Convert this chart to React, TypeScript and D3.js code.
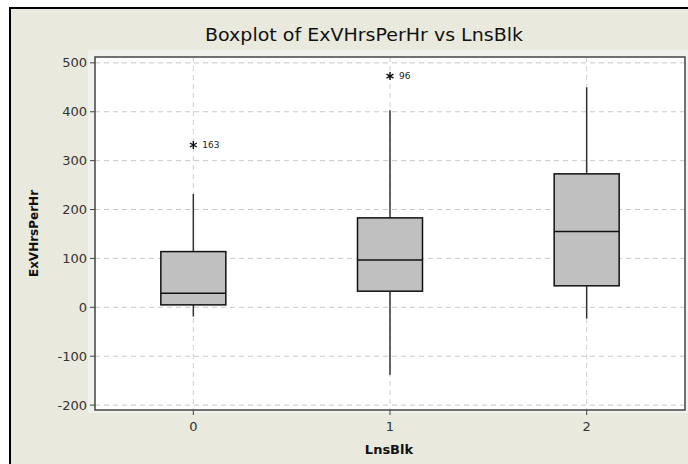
import React from "react";
import * as d3 from "d3";

const categories = ["0", "1", "2"];
const q1 = [5, 33, 44];
const medians = [29, 97, 155];
const q3 = [114, 183, 273];
const whiskerLow = [-19, -138, -23];
const whiskerHigh = [232, 403, 450];
const outlierCat = ["0", "1"];
const outlierVal = [332, 473];
const outlierLabel = ["163", "96"];
const yTicks = [-200, -100, 0, 100, 200, 300, 400, 500];

const W = 688;
const H = 464;
const plot = { left: 95, right: 685, top: 57, bottom: 410 };

export default function App() {
  const x = d3.scalePoint<string>().domain(categories).range([plot.left, plot.right]).padding(0.5);
  const y = d3.scaleLinear().domain([-210, 512]).range([plot.bottom, plot.top]);
  const boxW = 65;
  const font = "Tahoma, 'DejaVu Sans', Verdana, sans-serif";
  const star = d3.symbol(d3.symbolAsterisk, 45)() as string;

  return (
    <svg width={W} height={H} style={{ position: "absolute", left: 0, top: 0 }} fontFamily={font}>
      <rect x={0} y={0} width={W} height={H} fill="#ffffff" />
      <rect x={10} y={8} width={W + 10} height={H + 10} fill="#E9E9DD" stroke="#000" strokeWidth={2} />
      <rect x={88} y={50} width={plot.right - 88 + 3} height={plot.bottom - 50 + 3} fill="#F1F1EE" />
      <rect x={plot.left} y={plot.top} width={plot.right - plot.left} height={plot.bottom - plot.top} fill="#ffffff" />
      {/* grid */}
      {yTicks.map((t) => (
        <line key={"gy" + t} x1={plot.left} x2={plot.right} y1={y(t)} y2={y(t)} stroke="#C8C8C8" strokeDasharray="5,4" />
      ))}
      {categories.map((c) => (
        <line key={"gx" + c} x1={x(c)} x2={x(c)} y1={plot.top} y2={plot.bottom} stroke="#D0D0D0" strokeDasharray="5,4" />
      ))}
      {/* boxes */}
      {categories.map((c, i) => {
        const cx = x(c) as number;
        return (
          <g key={"b" + c}>
            <line x1={cx} x2={cx} y1={y(whiskerHigh[i])} y2={y(q3[i])} stroke="#333" strokeWidth={1.5} />
            <line x1={cx} x2={cx} y1={y(q1[i])} y2={y(whiskerLow[i])} stroke="#333" strokeWidth={1.5} />
            <rect x={cx - boxW / 2} y={y(q3[i])} width={boxW} height={y(q1[i]) - y(q3[i])} fill="#C0C0C0" stroke="#111" strokeWidth={1.5} />
            <line x1={cx - boxW / 2} x2={cx + boxW / 2} y1={y(medians[i])} y2={y(medians[i])} stroke="#111" strokeWidth={1.5} />
          </g>
        );
      })}
      {outlierCat.map((c, i) => {
        const cx = x(c) as number;
        return (
          <g key={"o" + i}>
            <path d={star} transform={`translate(${cx},${y(outlierVal[i])})`} stroke="#111" strokeWidth={1.4} fill="none" />
            <text x={cx + 9} y={y(outlierVal[i]) + 3} fontSize={9} fill="#222">{outlierLabel[i]}</text>
          </g>
        );
      })}
      {/* frame */}
      <rect x={plot.left} y={plot.top} width={plot.right - plot.left} height={plot.bottom - plot.top} fill="none" stroke="#444" strokeWidth={1.5} />
      {/* y axis */}
      {yTicks.map((t) => (
        <g key={"ty" + t}>
          <line x1={plot.left - 5} x2={plot.left} y1={y(t)} y2={y(t)} stroke="#444" />
          <text x={plot.left - 8} y={y(t)} dy="0.35em" textAnchor="end" fontSize={13} fill="#333">{t}</text>
        </g>
      ))}
      {categories.map((c) => (
        <g key={"tx" + c}>
          <line x1={x(c)} x2={x(c)} y1={plot.bottom} y2={plot.bottom + 5} stroke="#444" />
          <text x={x(c)} y={plot.bottom + 21} textAnchor="middle" fontSize={13} fill="#333">{c}</text>
        </g>
      ))}
      <text x={364} y={41} textAnchor="middle" fontSize={17} fill="#111" textLength={318} lengthAdjust="spacingAndGlyphs">Boxplot of ExVHrsPerHr vs LnsBlk</text>
      <text x={389} y={454} textAnchor="middle" fontSize={13} fontWeight="bold" fill="#111">LnsBlk</text>
      <text transform={`translate(38,${(plot.top + plot.bottom) / 2}) rotate(-90)`} textAnchor="middle" fontSize={12} fontWeight="bold" fill="#111">ExVHrsPerHr</text>
    </svg>
  );
}
